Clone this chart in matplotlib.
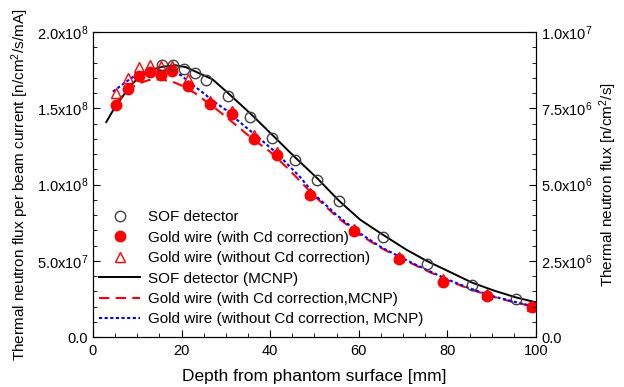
import numpy as np
import matplotlib
matplotlib.use('Agg')
import matplotlib.pyplot as plt
from matplotlib.ticker import MultipleLocator, FixedLocator

plt.rcParams['font.family'] = ['Liberation Sans', 'DejaVu Sans']
plt.rcParams['mathtext.fontset'] = 'custom'
plt.rcParams['mathtext.rm'] = 'Liberation Sans'
plt.rcParams['mathtext.it'] = 'Liberation Sans:italic'

# measurements (flux in units of 1e8 n/cm2/s/mA)
sof_x = [15.5, 18, 20.5, 23, 25.5, 30.5, 35.5, 40.5, 45.5, 50.5, 55.5, 65.5, 75.5, 85.5, 95.5]
sof_y = [1.784, 1.786, 1.758, 1.729, 1.685, 1.578, 1.446, 1.307, 1.163, 1.032, 0.89, 0.658, 0.477, 0.341, 0.247]

gold_x = [5.3, 7.8, 10.3, 12.9, 15.4, 17.9, 21.5, 26.5, 31.3, 36.4, 41.5, 49, 59, 69, 79, 89, 99]
gold_cd_y = [1.524, 1.626, 1.712, 1.738, 1.72, 1.742, 1.648, 1.53, 1.46, 1.30, 1.193, 0.931, 0.697,
             0.511, 0.359, 0.269, 0.199]
gold_nocd_y = [1.600, 1.696, 1.772, 1.785, 1.775, 1.777, 1.69, 1.55, 1.48, 1.325, 1.212, 0.945, 0.712,
               0.525, 0.38, 0.28, 0.205]

# MCNP calculations
sof_mcnp_x = [3, 5, 8, 10, 13, 15.5, 18.5, 21, 24, 27, 30.5, 33.5, 35.5, 40.5, 45.5, 50.5, 55.5, 60.3,
              65.5, 70.8, 75.5, 80.5, 85.5, 90.5, 95.5, 100]
sof_mcnp_y = [1.41, 1.51, 1.63, 1.695, 1.75, 1.772, 1.783, 1.77, 1.73, 1.69, 1.60, 1.52, 1.467, 1.325,
              1.182, 1.045, 0.895, 0.77, 0.67, 0.572, 0.497, 0.428, 0.358, 0.305, 0.26, 0.228]

cd_mcnp_x = [5, 7.5, 10, 12.5, 15, 17.5, 20, 23, 27.2, 30, 33.2, 36, 40, 44, 50, 55, 60, 65, 70, 75,
             80, 85, 90, 95, 100]
cd_mcnp_y = [1.53, 1.61, 1.66, 1.685, 1.69, 1.68, 1.65, 1.60, 1.51, 1.445, 1.368, 1.30, 1.215, 1.106,
             0.925, 0.79, 0.675, 0.585, 0.51, 0.44, 0.373, 0.315, 0.267, 0.229, 0.196]

nocd_mcnp_x = [4.5, 8, 10, 12.5, 15, 18, 20, 22, 24.5, 27.5, 30, 32.5, 35, 37.5, 41.5, 46.7, 50, 55,
               60, 65, 70, 75, 80, 85, 90, 95, 100]
nocd_mcnp_y = [1.61, 1.685, 1.725, 1.745, 1.748, 1.745, 1.715, 1.665, 1.61, 1.54, 1.49, 1.425, 1.365,
               1.305, 1.205, 1.051, 0.935, 0.80, 0.685, 0.59, 0.515, 0.445, 0.378, 0.32, 0.27, 0.232,
               0.198]

left_ticks = [0, 0.5e8, 1.0e8, 1.5e8, 2.0e8]
left_labels = ['0.0', r'5.0x10$^{7}$', r'1.0x10$^{8}$', r'1.5x10$^{8}$', r'2.0x10$^{8}$']
right_ticks = [0, 2.5e6, 5.0e6, 7.5e6, 1.0e7]
right_labels = ['0.0', r'2.5x10$^{6}$', r'5.0x10$^{6}$', r'7.5x10$^{6}$', r'1.0x10$^{7}$']

fig = plt.figure(figsize=(6.24, 3.87), dpi=100)
ax = fig.add_axes([0.149, 0.129, 0.71, 0.788])

e8 = 1e8
ax.plot(sof_x, np.array(sof_y) * e8, 'o', mfc='none', mec='#404040', ms=7.5, mew=1.0,
        label='SOF detector', zorder=4)
ax.plot(gold_x, np.array(gold_cd_y) * e8, 'o', color='red', ms=7.5, label='Gold wire (with Cd correction)',
        zorder=3)
ax.plot(gold_x, np.array(gold_nocd_y) * e8, '^', mfc='none', mec='red', ms=7.5, mew=1.0,
        label='Gold wire (without Cd correction)', zorder=4)
ax.plot(sof_mcnp_x, np.array(sof_mcnp_y) * e8, '-', color='black', lw=1.4, label='SOF detector (MCNP)')
ax.plot(cd_mcnp_x, np.array(cd_mcnp_y) * e8, '--', color='red', lw=1.5, dashes=(5, 3),
        label='Gold wire (with Cd correction,MCNP)')
ax.plot(nocd_mcnp_x, np.array(nocd_mcnp_y) * e8, ':', color='blue', lw=1.5, dashes=(1.5, 1.2),
        label='Gold wire (without Cd correction, MCNP)')

ax.set_xlim(0, 100)
ax.set_ylim(0, 2.0e8)
ax.xaxis.set_major_locator(MultipleLocator(20))
ax.xaxis.set_minor_locator(MultipleLocator(5))
ax.yaxis.set_major_locator(FixedLocator(left_ticks))
ax.set_yticklabels(left_labels)
ax.yaxis.set_minor_locator(MultipleLocator(0.1e8))
ax.tick_params(which='both', direction='in', top=False, right=False, labelsize=10.5)
ax.tick_params(which='major', length=5)
ax.tick_params(which='minor', length=3)
ax.tick_params(axis='x', pad=5)
ax.set_xlabel('Depth from phantom surface [mm]', fontsize=12.5, labelpad=8)
ax.set_ylabel(r'Thermal neutron flux per beam current [n/cm$^{2}$/s/mA]', fontsize=11)

ax2 = ax.twinx()
ax2.set_ylim(0, 1.0e7)
ax2.yaxis.set_major_locator(FixedLocator(right_ticks))
ax2.set_yticklabels(right_labels)
ax2.yaxis.set_minor_locator(MultipleLocator(0.5e6))
ax2.tick_params(which='both', direction='in', labelsize=10.5)
ax2.tick_params(which='major', length=5)
ax2.tick_params(which='minor', length=3)
ax2.set_ylabel(r'Thermal neutron flux [n/cm$^{2}$/s]', fontsize=11)

ax.legend(loc='lower left', bbox_to_anchor=(-0.01, 0.0), frameon=False, fontsize=11, numpoints=1,
          handlelength=2.7, labelspacing=0.42, handletextpad=0.5, borderaxespad=0.3)

fig.savefig('out.png', dpi=100)
